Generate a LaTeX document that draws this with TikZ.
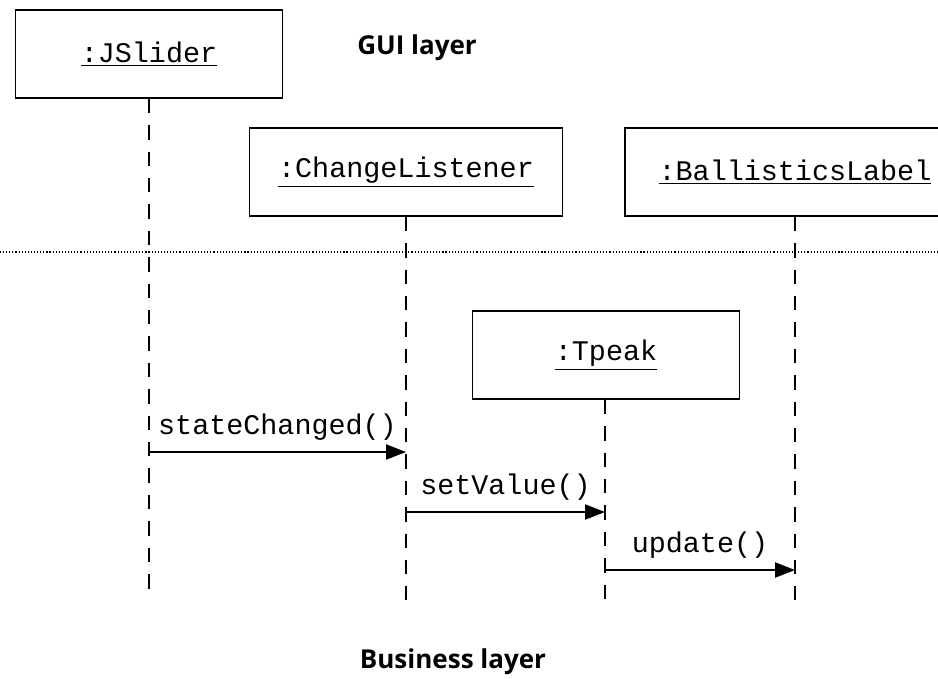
\documentclass[tikz,border=0pt]{standalone}
\usepackage{fontspec}
\setmainfont{Liberation Sans}
\setmonofont{Liberation Mono}
\newfontfamily\layerfont{Open Sans}
\usetikzlibrary{positioning, arrows.meta, calc}

\begin{document}
\begin{tikzpicture}[x=0.025cm, y=-0.025cm,
          obj/.style={draw, line width=1.1pt, fill=white, font=\ttfamily\fontsize{20.2}{23}\selectfont, minimum width=6.68cm, minimum height=2.2cm, inner sep=0pt},
          life/.style={draw, line width=0.9pt, dash pattern=on 0.36cm off 0.3cm},
          msg/.style={line width=1.1pt, -{Triangle[length=0.5cm, width=0.38cm]}},
          msgtxt/.style={font=\ttfamily\fontsize{20.2}{23}\selectfont, inner sep=2pt},
          layer/.style={font=\layerfont\bfseries\fontsize{18.5}{22}\selectfont}]
        \clip (0,0) rectangle (938,678);
        % objects
        \node[obj] (js) at (149,54) {\underline{:JSlider}};
        \node[obj, minimum width=7.83cm] (cl) at (406,172) {\underline{:ChangeListener}};
        \node[obj, minimum width=8.5cm] (bl) at (795,172) {\underline{:BallisticsLabel}};
        \node[obj] (tp) at (606,355) {\underline{:Tpeak}};
        \node[layer] (gui) at (417,48) {GUI layer};
        \node[layer] (biz) at (453,662) {Business layer};
        % layer boundary
        \draw[line width=0.8pt, dash pattern=on 0.8pt off 1.4pt] (0,252) -- (938,252);
        % lifelines
        \coordinate (jsend) at (149,600);
        \coordinate (clend) at (406,600);
        \coordinate (tpend) at (605,600);
        \coordinate (blend) at (795,600);
        \draw[life] (js.south) -- (jsend);
        \draw[life] (cl.south) -- (clend);
        \draw[life] (tp.south -| tpend) -- (tpend);
        \draw[life] (bl.south) -- (blend);
        % messages
        \draw[msg] (jsend |- 0,452) -- node[above=6pt, msgtxt] {stateChanged()} (clend |- 0,452);
        \draw[msg] (clend |- 0,512) -- node[above=6pt, msgtxt] {setValue()} (tpend |- 0,512);
        \draw[msg] (tpend |- 0,570) -- node[above=6pt, msgtxt] {update()} (blend |- 0,570);
      \end{tikzpicture}
\end{document}
